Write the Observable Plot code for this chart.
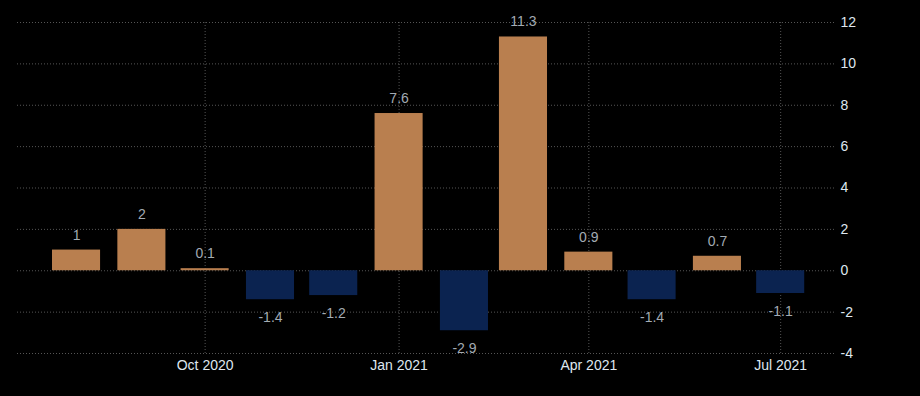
<!DOCTYPE html>
<html>
<head>
<meta charset="utf-8">
<script src="https://cdn.jsdelivr.net/npm/d3@7"></script>
<script src="https://cdn.jsdelivr.net/npm/@observablehq/plot@0.6"></script>
<style>
  html, body { margin: 0; padding: 0; background: #000; }
  #chart { width: 920px; height: 396px; }
</style>
</head>
<body>
<div id="chart"></div>
<script>
const months = ["2020-08-01","2020-09-01","2020-10-01","2020-11-01","2020-12-01","2021-01-01",
                "2021-02-01","2021-03-01","2021-04-01","2021-05-01","2021-06-01","2021-07-01"];
const values = [1, 2, 0.1, -1.4, -1.2, 7.6, -2.9, 11.3, 0.9, -1.4, 0.7, -1.1];
const xTickMonths = ["2020-10-01","2021-01-01","2021-04-01","2021-07-01"];
const yTicks = [-4, -2, 0, 2, 4, 6, 8, 10, 12];

const data = months.map((m, i) => ({date: new Date(m + "T00:00:00Z"), value: values[i]}));
const xTickDates = xTickMonths.map(m => new Date(m + "T00:00:00Z"));
const halfBar = 11.4 * 24 * 3600 * 1000;

const posColor = "#b97f4f";
const negColor = "#0b2350";
const valueColor = "#a3abb3";

const chart = Plot.plot({
  width: 920,
  height: 396,
  marginLeft: 17,
  marginRight: 85,
  marginTop: 22,
  marginBottom: 43,
  style: {background: "#000", color: "#dfe7ef", fontFamily: "'Liberation Sans', Arial, sans-serif", fontSize: "14px"},
  x: {
    type: "utc",
    domain: [new Date("2020-07-04T00:00:00Z"), new Date("2021-07-27T00:00:00Z")],
    ticks: xTickDates,
    tickSize: 0,
    tickPadding: 7,
    tickFormat: d3.utcFormat("%b %Y"),
    label: null
  },
  y: {
    domain: [-4, 12],
    axis: "right",
    ticks: yTicks,
    tickSize: 0,
    tickPadding: 5,
    tickFormat: d => String(d),
    label: null
  },
  marks: [
    Plot.ruleY(yTicks, {stroke: "#9a9a9a", strokeOpacity: 0.55, strokeDasharray: "1,2"}),
    Plot.ruleX(xTickDates, {stroke: "#9a9a9a", strokeOpacity: 0.55, strokeDasharray: "1,2"}),
    Plot.rectY(data, {
      x1: d => new Date(+d.date - halfBar),
      x2: d => new Date(+d.date + halfBar),
      y1: 0,
      y2: "value",
      fill: d => d.value >= 0 ? posColor : negColor
    }),
    Plot.text(data.filter(d => d.value >= 0), {
      x: "date", y: "value", text: d => String(d.value),
      dy: -15, fill: valueColor, fontSize: 14, lineAnchor: "middle"
    }),
    Plot.text(data.filter(d => d.value < 0), {
      x: "date", y: "value", text: d => String(d.value),
      dy: 18, fill: valueColor, fontSize: 14, lineAnchor: "middle"
    })
  ]
});
document.getElementById("chart").appendChild(chart);
</script>
</body>
</html>
